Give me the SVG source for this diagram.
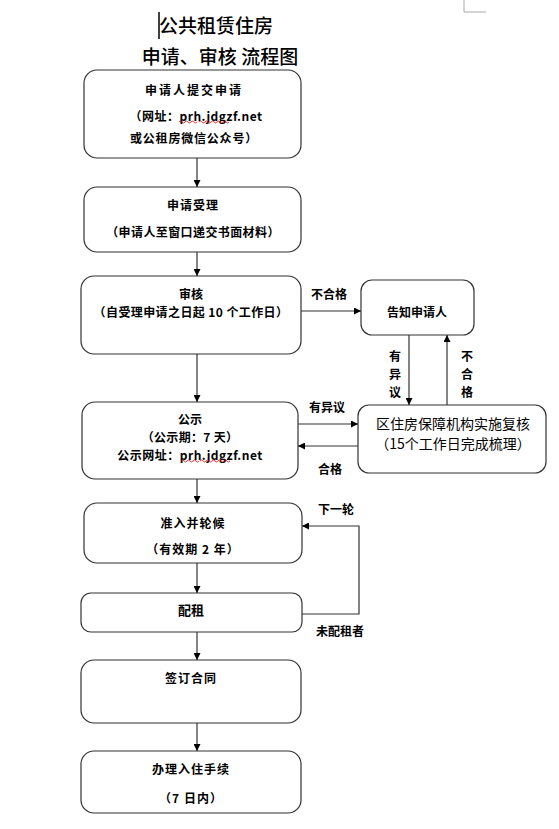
<svg xmlns="http://www.w3.org/2000/svg" width="559" height="829" viewBox="0 0 559 829">
<defs>
<marker id="ah" viewBox="0 0 10 10" refX="10" refY="5" markerWidth="7" markerHeight="7" markerUnits="userSpaceOnUse" orient="auto">
<path d="M0,0 L10,5 L0,10 z" fill="#000"/>
</marker>
<style>
.box{fill:#fff;stroke:#333;stroke-width:1.2}
.t{font-family:"Noto Sans CJK SC","Liberation Serif",sans-serif;font-size:12px;font-weight:bold;fill:#000;text-anchor:middle;dominant-baseline:central}
.lab{font-family:"Noto Sans CJK SC",sans-serif;font-size:12px;font-weight:bold;fill:#000;text-anchor:middle;dominant-baseline:central}
.title{font-family:"Noto Sans CJK SC",sans-serif;font-size:19px;font-weight:500;fill:#000;text-anchor:middle;dominant-baseline:central}
.c{fill:none;stroke:#333;stroke-width:1.2}
.sq{fill:none;stroke:#d00;stroke-width:0.8}
</style>
</defs>
<rect width="559" height="829" fill="#fff"/>
<path d="M464,0 V12 H486" fill="none" stroke="#aaa" stroke-width="1"/>
<g id="title">
<line x1="159" y1="12" x2="159" y2="39" stroke="#000" stroke-width="1.5"/>
<text class="title" x="216" y="24">公共租赁住房</text>
<text class="title" x="220" y="55">申请、审核 流程图</text>
</g>
<g id="n1">
<rect class="box" x="84" y="70" width="217" height="88" rx="13"/>
<text class="t" x="194" y="89" letter-spacing="2">申请人提交申请</text>
<text class="t" x="196" y="115" letter-spacing="0.5">（网址：prh.jdgzf.net</text>
<text class="t" x="194" y="137" letter-spacing="0.8">或公租房微信公众号）</text>
<path class="sq" d="M179,122 q1.5,-2 3,0 t3,0 t3,0 t3,0 t3,0 t3,0 M199,122 q1.5,-2 3,0 t3,0 t3,0 t3,0 t3,0 t3,0 t3,0 t3,0 t3,0 t3,0"/>
</g>
<g id="n2">
<rect class="box" x="84" y="187" width="217" height="65" rx="13"/>
<text class="t" x="193" y="204" letter-spacing="1">申请受理</text>
<text class="t" x="193" y="231" letter-spacing="0.4">（申请人至窗口递交书面材料）</text>
</g>
<g id="n3">
<rect class="box" x="81" y="276" width="220" height="78" rx="13"/>
<text class="t" x="191" y="293">审核</text>
<text class="t" x="191" y="311" letter-spacing="0.4">（自受理申请之日起 10 个工作日）</text>
</g>
<g id="n4">
<rect class="box" x="361" y="280" width="113" height="55" rx="11"/>
<text class="t" x="417" y="311" font-weight="normal">告知申请人</text>
</g>
<g id="n5">
<rect class="box" x="358" y="405" width="188" height="68" rx="11"/>
<text class="t" x="453" y="423" style="font-size:14px;font-weight:normal">区住房保障机构实施复核</text>
<text class="t" x="453" y="443" style="font-size:14px;font-weight:normal">（15个工作日完成梳理）</text>
</g>
<g id="n6">
<rect class="box" x="82" y="402" width="216" height="77" rx="13"/>
<text class="t" x="190" y="418">公示</text>
<text class="t" x="190" y="436" letter-spacing="0.3">（公示期：7 天）</text>
<text class="t" x="190" y="454" letter-spacing="0.5">公示网址：prh.jdgzf.net</text>
<path class="sq" d="M181,461 q1.5,-2 3,0 t3,0 t3,0 t3,0 t3,0 t3,0 M200,461 q1.5,-2 3,0 t3,0 t3,0 t3,0 t3,0 t3,0 t3,0 t3,0 t3,0 t3,0"/>
</g>
<g id="n7">
<rect class="box" x="84" y="503" width="218" height="60" rx="13"/>
<text class="t" x="193" y="522" letter-spacing="1">准入并轮候</text>
<text class="t" x="193" y="548" letter-spacing="1">（有效期 2 年）</text>
</g>
<g id="n8">
<rect class="box" x="81" y="593" width="221" height="39" rx="10"/>
<text class="t" x="191" y="609" style="font-size:13px">配租</text>
</g>
<g id="n9">
<rect class="box" x="81" y="660" width="220" height="63" rx="13"/>
<text class="t" x="191" y="677" letter-spacing="1">签订合同</text>
</g>
<g id="n10">
<rect class="box" x="81" y="751" width="220" height="62" rx="13"/>
<text class="t" x="191" y="768" letter-spacing="1">办理入住手续</text>
<text class="t" x="191" y="797" letter-spacing="1">（7 日内）</text>
</g>
<g id="connectors">
<line class="c" x1="197" y1="158" x2="197" y2="187" marker-end="url(#ah)"/>
<line class="c" x1="197" y1="252" x2="197" y2="276" marker-end="url(#ah)"/>
<line class="c" x1="301" y1="311" x2="361" y2="311" marker-end="url(#ah)"/>
<line class="c" x1="197" y1="354" x2="197" y2="402" marker-end="url(#ah)"/>
<line class="c" x1="409" y1="335" x2="409" y2="405" marker-end="url(#ah)"/>
<line class="c" x1="447" y1="405" x2="447" y2="335" marker-end="url(#ah)"/>
<line class="c" x1="298" y1="424" x2="358" y2="424" marker-end="url(#ah)"/>
<line class="c" x1="358" y1="446" x2="298" y2="446" marker-end="url(#ah)"/>
<line class="c" x1="197" y1="479" x2="197" y2="503" marker-end="url(#ah)"/>
<line class="c" x1="197" y1="563" x2="197" y2="593" marker-end="url(#ah)"/>
<polyline class="c" points="302,614 359,614 359,526 302,526" marker-end="url(#ah)"/>
<line class="c" x1="197" y1="632" x2="197" y2="660" marker-end="url(#ah)"/>
<line class="c" x1="197" y1="723" x2="197" y2="751" marker-end="url(#ah)"/>
<text class="lab" x="329" y="293">不合格</text>
<text class="lab" x="395" y="355">有</text>
<text class="lab" x="395" y="373">异</text>
<text class="lab" x="395" y="391">议</text>
<text class="lab" x="467" y="355">不</text>
<text class="lab" x="467" y="373">合</text>
<text class="lab" x="467" y="391">格</text>
<text class="lab" x="327" y="406">有异议</text>
<text class="lab" x="330" y="468">合格</text>
<text class="lab" x="336" y="508">下一轮</text>
<text class="lab" x="340" y="630">未配租者</text>
</g>
</svg>
